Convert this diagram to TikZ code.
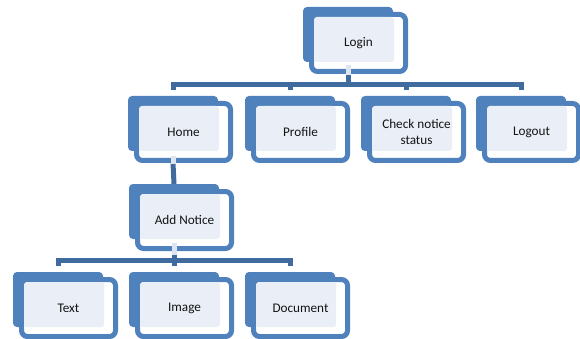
\documentclass[tikz,border=0pt]{standalone}
\usepackage{fontspec}
\setmainfont{Carlito}
\definecolor{backc}{HTML}{4F81BD}
\definecolor{lightc}{HTML}{E9EEF7}
\definecolor{stubc}{HTML}{DDE5F1}
\definecolor{connc}{HTML}{3F6B9F}
\definecolor{txtc}{HTML}{141414}
\tikzset{
  backbox/.style={fill=backc, rounded corners=4pt, minimum width=90pt, minimum height=55pt, inner sep=0pt, outer sep=0pt},
  outlbox/.style={draw=backc, fill=white, line width=5pt, rounded corners=6pt, minimum width=94pt, minimum height=57pt, inner sep=0pt},
  lbl/.style={font=\fontsize{13.2}{16}\selectfont, text=txtc, align=center, inner sep=0pt},
  conn/.style={draw=connc, line width=5pt},
  stub/.style={draw=stubc, line width=5pt},
}
\newcommand\orgbox[4]{%
  \node[backbox] (#1) at (#2+45,#3+27.5) {};
  \node[outlbox] (#1-o) at (#2+55.5,#3+36) {};
  \fill[lightc, rounded corners=3pt] (#2+11,#3+10) rectangle ++(80,45);
  \node[lbl] (#1-t) at (#1-o) {#4};
}
\begin{document}
\begin{tikzpicture}[x=1pt,y=-1pt]
\useasboundingbox (0,0) rectangle (580,339);
\orgbox{login}{303}{7}{Login}
\orgbox{home}{128}{96}{Home}
\orgbox{profile}{245}{96}{Profile}
\orgbox{check}{361}{96}{Check notice\\status}
\orgbox{logout}{476}{96}{Logout}
\orgbox{addn}{129}{184}{Add Notice}
\orgbox{text}{13}{272}{Text}
\orgbox{image}{129}{272}{Image}
\orgbox{doc}{245}{272}{Document}
\coordinate (bus1) at (0,84.5);
\coordinate (bus2) at (0,260.5);
% level 1
\draw[conn] (login |- login-o.south) -- (login |- bus1);
\draw[conn] ([yshift=6pt]home.north) |- (logout |- bus1) -- ([yshift=6pt]logout.north);
\draw[conn] (profile |- bus1) -- ([yshift=6pt]profile.north);
\draw[conn] (check |- bus1) -- ([yshift=6pt]check.north);
% home to add notice
\draw[conn] (home |- home-o.south) -- (addn.north);
% level 3
\draw[conn] (addn |- addn-o.south) -- (addn |- bus2);
\draw[conn] ([yshift=6pt]text.north) |- (doc |- bus2) -- ([yshift=6pt]doc.north);
\draw[conn] (image |- bus2) -- ([yshift=6pt]image.north);
% light stubs over the borders
\draw[stub] ([yshift=9pt]login |- login-o.south) -- ([yshift=-1pt]login |- login-o.south);
\draw[stub] ([yshift=7pt]home |- home-o.south) -- ([yshift=-1pt]home |- home-o.south);
\draw[stub] ([yshift=8pt]addn |- addn-o.south) -- ([yshift=-4pt]addn |- addn-o.south);
\end{tikzpicture}
\end{document}
